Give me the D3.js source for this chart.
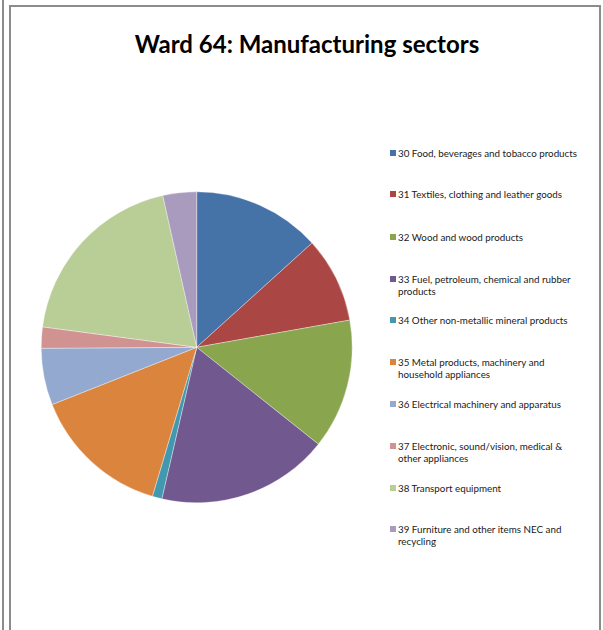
<!DOCTYPE html>
<html><head><meta charset="utf-8">
<script src="https://cdn.jsdelivr.net/npm/d3@7"></script>
<style>body{margin:0;background:#fff}svg{display:block}</style>
</head><body>
<svg id="c" width="603" height="630"></svg>
<script>
const categories = [
  "30 Food, beverages and tobacco products",
  "31 Textiles, clothing and leather goods",
  "32 Wood and wood products",
  "33 Fuel, petroleum, chemical and rubber products",
  "34 Other non-metallic mineral products",
  "35 Metal products, machinery and household appliances",
  "36 Electrical machinery and apparatus",
  "37 Electronic, sound/vision, medical & other appliances",
  "38 Transport equipment",
  "39 Furniture and other items NEC and recycling"
];
const legendLines = [
  ["30 Food, beverages and tobacco products"],
  ["31 Textiles, clothing and leather goods"],
  ["32 Wood and wood products"],
  ["33 Fuel, petroleum, chemical and rubber", "products"],
  ["34 Other non-metallic mineral products"],
  ["35 Metal products, machinery and", "household appliances"],
  ["36 Electrical machinery and apparatus"],
  ["37 Electronic, sound/vision, medical &", "other appliances"],
  ["38 Transport equipment"],
  ["39 Furniture and other items NEC and", "recycling"]
];
const values = [13.3, 8.9, 13.5, 17.9, 1.0, 14.4, 5.9, 2.2, 19.4, 3.5];
const colors = ["#4572A7","#AA4643","#89A54E","#71588F","#4198AF","#DB843D","#93A9CF","#D19392","#B9CD96","#A99BBD"];
const legendY = [153, 194, 237, 279, 320, 362, 404, 446, 488, 529];

const svg = d3.select("#c");
svg.append("rect").attr("x",2).attr("y",-2).attr("width",2).attr("height",640).attr("fill","#8c8c8c");
svg.append("path").attr("d","M10,640 V6 H600 V640").attr("fill","none").attr("stroke","#8c8c8c").attr("stroke-width",2);

svg.append("text").attr("x",307).attr("y",53).attr("text-anchor","middle")
  .attr("font-family","Lato, 'Open Sans', sans-serif").attr("font-weight","bold").attr("font-size",24)
  .attr("fill","#000").text("Ward 64: Manufacturing sectors");

const color = d3.scaleOrdinal().domain(categories).range(colors);
const pie = d3.pie().sort(null).value(d => d.v);
const data = categories.map((c,i)=>({c, v: values[i]}));
const arc = d3.arc().innerRadius(0).outerRadius(155.5);
const g = svg.append("g").attr("transform","translate(196.7,347.3)");
g.selectAll("path").data(pie(data)).join("path")
  .attr("d", arc).attr("fill", d => color(d.data.c))
  .attr("stroke","#ffffff").attr("stroke-width",0.5).attr("stroke-opacity",0.7);

const lg = svg.append("g");
categories.forEach((c,i)=>{
  const y = legendY[i];
  lg.append("rect").attr("x",390).attr("y",y-3).attr("width",6).attr("height",6).attr("fill",color(c));
  const t = lg.append("text").attr("x",398).attr("y",y+3.5)
    .attr("font-family","Lato, 'Open Sans', sans-serif").attr("font-size",9.8).attr("fill","#1a1a1a");
  legendLines[i].forEach((ln,j)=>{
    t.append("tspan").attr("x",398).attr("dy", j===0?0:12.5).text(ln);
  });
});
</script>
</body></html>
